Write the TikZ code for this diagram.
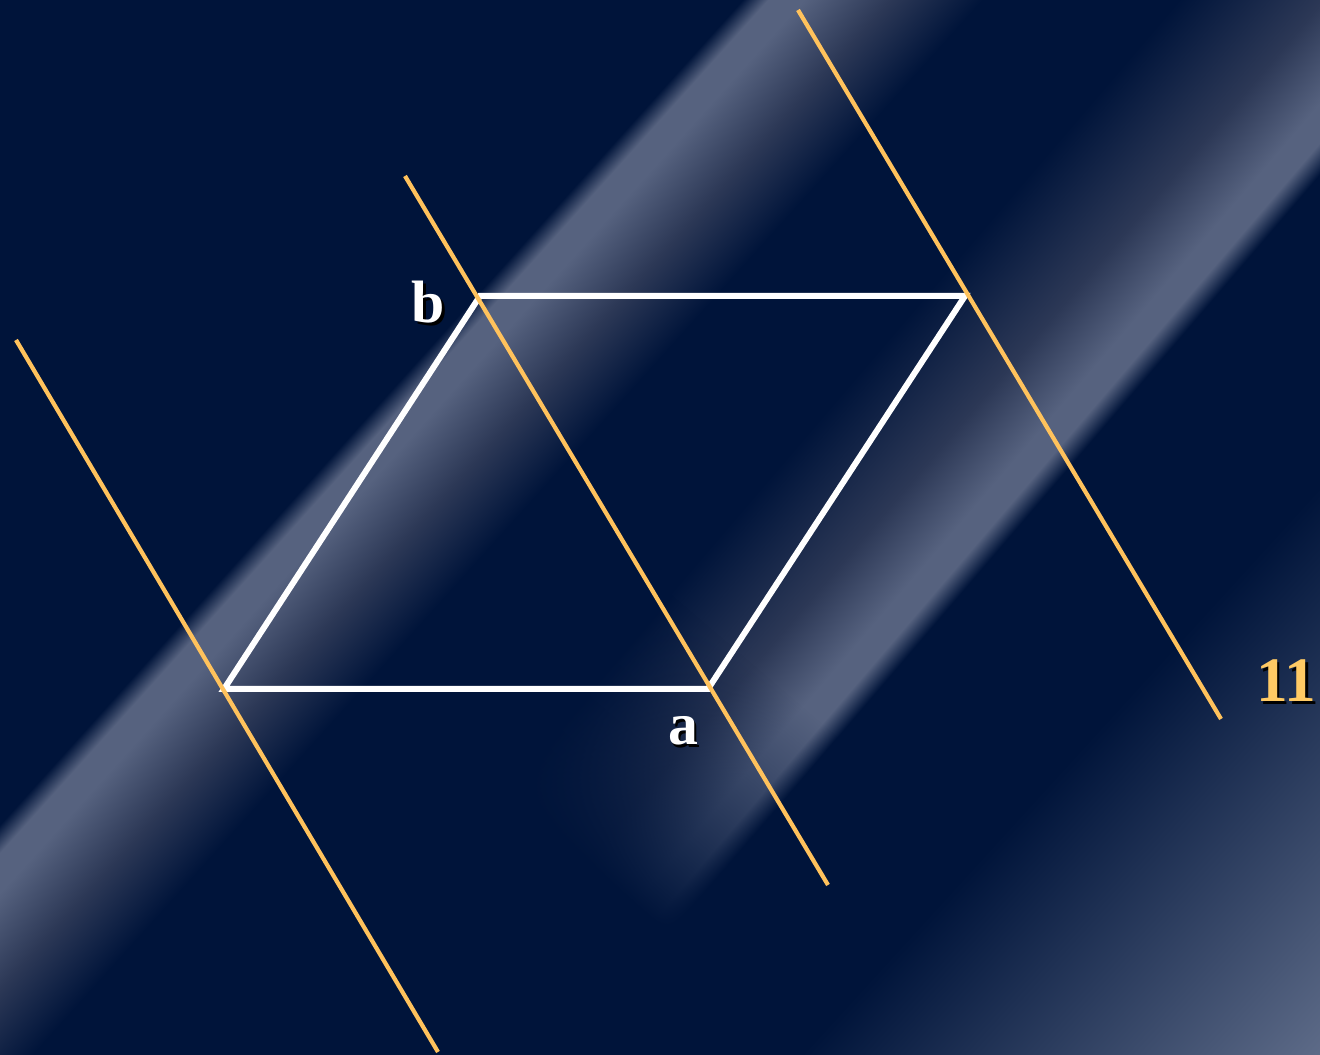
\documentclass[tikz,border=0pt]{standalone}
\usepackage{fontspec}
\setmainfont{Liberation Serif}
\usetikzlibrary{fadings}
\definecolor{slidenavy}{HTML}{00143A}
\definecolor{streaklight}{HTML}{56627F}
\definecolor{streakmid}{HTML}{2C3856}
\definecolor{streakcorner}{HTML}{66738F}
\definecolor{rayorange}{HTML}{FFC25C}
\definecolor{labelgold}{HTML}{FFCA64}
% streak profiles across the streak (tikz maps 25bp..75bp onto the path)
\pgfdeclareverticalshading{streakA}{100bp}{color(0bp)=(slidenavy); color(25bp)=(slidenavy); color(43bp)=(streakmid); color(60bp)=(streaklight); color(67bp)=(streaklight); color(72bp)=(slidenavy); color(100bp)=(slidenavy)}
\pgfdeclareverticalshading{streakB}{100bp}{color(0bp)=(slidenavy); color(27bp)=(slidenavy); color(31.5bp)=(streaklight); color(37bp)=(streaklight); color(51bp)=(streakmid); color(75bp)=(slidenavy); color(100bp)=(slidenavy)}
\pgfdeclareverticalshading{streakC}{100bp}{color(0bp)=(slidenavy); color(25bp)=(slidenavy); color(50bp)=(streakcorner); color(75bp)=(slidenavy); color(100bp)=(slidenavy)}
\pgfdeclarehorizontalshading{streakendshade}{100bp}{color(0bp)=(black); color(25bp)=(black); color(35bp)=(white); color(100bp)=(white)}
\pgfdeclarefading{streakend}{\pgfuseshading{streakendshade}}
\newcommand{\slidebox}{(0,0) rectangle (1320,1055)}
\newcommand{\shadowed}[2]{\rlap{\kern0.8pt\raisebox{-0.8pt}{\color{black}#2}}{\color{#1}#2}}

\begin{document}
\begin{tikzpicture}[x=0.01cm, y=0.01cm,
  edgeline/.style={white, line width=1.7pt},
  rayline/.style={rayorange, line width=1.2pt},
  vlabel/.style={anchor=base, inner sep=0pt, font=\fontsize{17}{20}\selectfont\bfseries},
  numlabel/.style={anchor=base, inner sep=0pt, font=\fontsize{18}{22}\selectfont\bfseries}]

  \useasboundingbox \slidebox;
  \fill[slidenavy] \slidebox;

  % light streaks over the background
  \begin{scope}
    \clip \slidebox;
    \begin{scope}[transform canvas={shift={(265,527)}, rotate=48}]
      \shade[shading=streakA] (-900,-180) rectangle (1100,10);
    \end{scope}
    \begin{scope}[transform canvas={shift={(1320,882)}, rotate=49.4}]
      \shade[shading=streakB, path fading=streakend] (-1000,-10) rectangle (300,220);
    \end{scope}
    \begin{scope}[transform canvas={shift={(1360,-10)}, rotate=47.6}]
      \shade[shading=streakC] (-700,-420) rectangle (700,420);
    \end{scope}
  \end{scope}

  % corners of the cell
  \coordinate (vl) at (224,366);
  \coordinate (va) at (708,366);
  \coordinate (vr) at (965,759);
  \coordinate (vb) at (480,759);

  % ends of the parallel lines
  \coordinate (r1top) at (16,715);
  \coordinate (r1bot) at (438,3);
  \coordinate (r2top) at (405,879);
  \coordinate (r2bot) at (828,170);
  \coordinate (r3top) at (798,1045);
  \coordinate (r3bot) at (1221,336);

  \draw[edgeline] (vl) -- (va) -- (vr) -- (vb) -- cycle;
  \draw[rayline] (r1top) -- (r1bot);
  \draw[rayline] (r2top) -- (r2bot);
  \draw[rayline] (r3top) -- (r3bot);

  \node[vlabel] (lblb) at (428,732) {\shadowed{white}{b}};
  \node[vlabel] (lbla) at (683,310) {\shadowed{white}{a}};
  \node[numlabel] (lblnum) at (1286,353) {\shadowed{labelgold}{11}};

\end{tikzpicture}
\end{document}
